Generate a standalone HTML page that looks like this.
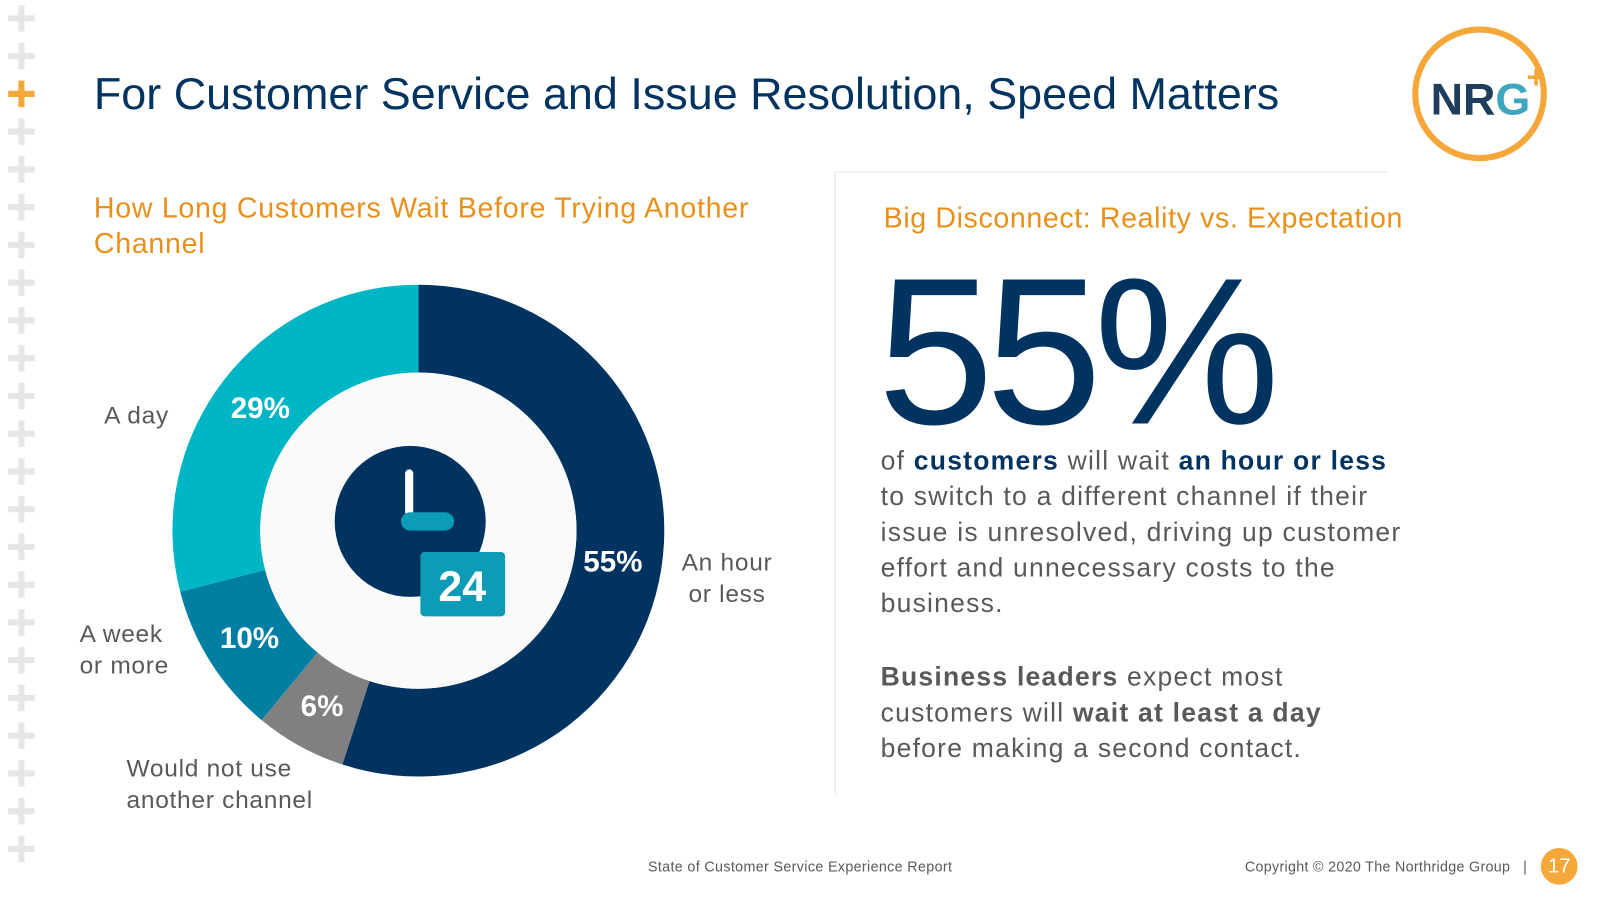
<!DOCTYPE html>
<html><head><meta charset="utf-8"><style>
html,body{margin:0;padding:0;background:#fff;overflow:hidden}
body{width:1600px;height:900px}
#s{position:absolute;left:0;top:0;width:1568px;height:882px;transform:scale(1.0204);transform-origin:0 0;font-family:"Liberation Sans",sans-serif}
.a{position:absolute}
.plus{position:absolute;left:8px;width:26px;height:26px}
.plus:before{content:"";position:absolute;left:10px;top:0;width:6px;height:26px;background:#e6e6e6}
.plus:after{content:"";position:absolute;left:0;top:10px;width:26px;height:6px;background:#e6e6e6}
.plus.o:before,.plus.o:after{background:#f6a73a}
.lab{color:#595959;font-size:24px;line-height:31px;letter-spacing:0.7px}
.body{color:#595959;font-size:26px;line-height:35px;letter-spacing:1.2px;white-space:nowrap}
.body b.n{color:#00335f}
</style></head><body>
<div id="s">
<div id="pl"></div>
<div class="a" style="left:92px;top:68px;font-size:44px;color:#00335f">For Customer Service and Issue Resolution, Speed Matters</div>
<svg class="a" style="left:1378px;top:20px" width="150" height="145">
<circle cx="72" cy="72" r="63" fill="none" stroke="#f6a73a" stroke-width="6"/>
<text x="24" y="92" font-family="Liberation Sans" font-weight="bold" font-size="44" fill="#1f3d5c">NR<tspan fill="#3fa6c0">G</tspan></text>
<text x="118" y="66" font-family="Liberation Sans" font-weight="bold" font-size="32" fill="#f6a73a">+</text>
</svg>
<div class="a" style="left:92px;top:186px;font-size:28px;line-height:35px;color:#e8901a;width:700px;letter-spacing:0.7px">How Long Customers Wait Before Trying Another Channel</div>
<svg class="a" id="donut" style="left:0;top:0" width="800" height="882"></svg>
<div class="a lab" style="left:102px;top:392px">A day</div>
<div class="a lab" style="left:78px;top:606px">A week<br>or more</div>
<div class="a lab" style="left:124px;top:738px">Would not use<br>another channel</div>
<div class="a lab" style="left:668px;top:536px;text-align:center">An hour<br>or less</div>
<div class="a" style="left:818px;top:168px;width:1px;height:610px;background:#e3e3e3"></div>
<div class="a" style="left:818px;top:168px;width:542px;height:1px;background:#e3e3e3"></div>
<div class="a" style="left:866px;top:198px;font-size:28px;color:#e8901a;letter-spacing:0.6px">Big Disconnect: Reality vs. Expectation</div>
<div class="a" style="left:860px;top:240px;font-size:205px;line-height:210px;color:#00335f;letter-spacing:-8px">55%</div>
<div class="a body" style="left:863px;top:434px">of <b class="n">customers</b> will wait <b class="n">an hour or less</b><br>to switch to a different channel if their<br>issue is unresolved, driving up customer<br>effort and unnecessary costs to the<br>business.</div>
<div class="a body" style="left:863px;top:646px"><b>Business leaders</b> expect most<br>customers will <b>wait at least a day</b><br>before making a second contact.</div>
<div class="a" style="left:635px;top:841px;font-size:14px;color:#595959;letter-spacing:0.35px">State of Customer Service Experience Report</div>
<div class="a" style="left:1220px;top:841px;font-size:14px;color:#595959;letter-spacing:0.3px">Copyright © 2020 The Northridge Group &nbsp;&nbsp;|</div>
<div class="a" style="left:1510px;top:831px;width:36px;height:36px;border-radius:50%;background:#f6a73a;color:#fff;font-size:20px;line-height:36px;text-align:center">17</div>
</div>
<script>
const categories=["An hour or less","Would not use another channel","A week or more","A day"];
const values=[55,6,10,29];
const colors=["#00335f","#808080","#007fa3","#00b5c4"];
const valueLabels=["55%","6%","10%","29%"];
const NS="http://www.w3.org/2000/svg";
const pl=document.getElementById('pl');
for(let i=0;i<23;i++){const d=document.createElement('div');d.className='plus'+(i===2?' o':'');d.style.top=(5+i*37)+'px';


pl.appendChild(d);}
const svg=document.getElementById('donut');
const cx=410,cy=520,R=241,r=155;
const total=values.reduce((a,b)=>a+b,0);
function pt(rad,f){const a=f*2*Math.PI-Math.PI/2;return [cx+rad*Math.cos(a),cy+rad*Math.sin(a)];}
const hole=document.createElementNS(NS,'circle');
let acc=0;const labels=[];
values.forEach((v,i)=>{const f0=acc/total,f1=(acc+v)/total;acc+=v;
const lg=(f1-f0)>0.5?1:0;const[a,b]=pt(R,f0),[c,d]=pt(R,f1),[e,f]=pt(r,f1),[g,h]=pt(r,f0);
const p=document.createElementNS(NS,'path');
p.setAttribute('d',`M${a},${b}A${R},${R} 0 ${lg} 1 ${c},${d}L${e},${f}A${r},${r} 0 ${lg} 0 ${g},${h}Z`);
p.setAttribute('fill',colors[i]);


svg.appendChild(p);
const m=(f0+f1)/2;const fa=(f1-f0)>0.4?Math.min(m,0.28):m;const[tx,ty]=pt(i===0?193:196,fa);
const t=document.createElementNS(NS,'text');t.setAttribute('x',tx);t.setAttribute('y',ty+10);t.setAttribute('text-anchor','middle');
t.setAttribute('font-family','Liberation Sans');t.setAttribute('font-weight','bold');t.setAttribute('font-size','29');t.setAttribute('fill','#fff');
t.textContent=valueLabels[i];


labels.push(t);});
hole.setAttribute('cx',cx);hole.setAttribute('cy',cy);hole.setAttribute('r',r);hole.setAttribute('fill','#fafafa');


svg.appendChild(hole);
labels.forEach(t=>svg.appendChild(t));
const g=document.createElementNS(NS,'g');


g.innerHTML='<circle cx="402" cy="511" r="74" fill="#00335f"/><rect x="397" y="460" width="8" height="46" rx="4" fill="#fff"/><rect x="393" y="502" width="52" height="18" rx="9" fill="#0e9bb5"/><rect x="412" y="541" width="83" height="63" rx="4" fill="#0e9bb5"/><text x="453" y="589" text-anchor="middle" font-family="Liberation Sans" font-weight="bold" font-size="42" fill="#fff">24</text>';
svg.appendChild(g);
</script>
</body></html>
